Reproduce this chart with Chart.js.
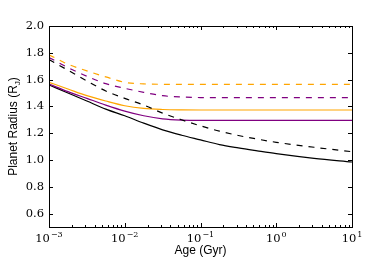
<!DOCTYPE html>
<html>
<head>
<meta charset="utf-8">
<script src="https://cdn.jsdelivr.net/npm/chart.js@4"></script>
<style>
  html, body { margin: 0; padding: 0; background: #fff; }
</style>
</head>
<body>
<canvas id="myChart" width="390" height="260"></canvas>
<script>
// Data (age in Gyr, radius in Jupiter radii)
const ages = [0.001, 0.00178, 0.00316, 0.00562, 0.01, 0.0178, 0.0316, 0.0562, 0.1, 0.178, 0.316, 0.562, 1, 3.16, 10];
const blackSolid   = [1.56, 1.50, 1.44, 1.38, 1.33, 1.275, 1.225, 1.185, 1.15, 1.115, 1.09, 1.068, 1.047, 1.012, 0.985];
const blackDashed  = [1.75, 1.67, 1.59, 1.515, 1.46, 1.41, 1.35, 1.30, 1.255, 1.215, 1.183, 1.156, 1.132, 1.095, 1.062];
const purpleSolid  = [1.567, 1.51, 1.46, 1.41, 1.365, 1.33, 1.307, 1.298, 1.296, 1.296, 1.296, 1.296, 1.296, 1.296, 1.296];
const purpleDashed = [1.765, 1.69, 1.625, 1.57, 1.535, 1.505, 1.48, 1.47, 1.466, 1.465, 1.465, 1.465, 1.465, 1.465, 1.465];
const orangeSolid  = [1.58, 1.53, 1.48, 1.44, 1.405, 1.385, 1.377, 1.374, 1.373, 1.373, 1.373, 1.373, 1.373, 1.373, 1.373];
const orangeDashed = [1.785, 1.715, 1.665, 1.62, 1.58, 1.568, 1.565, 1.565, 1.565, 1.565, 1.565, 1.565, 1.565, 1.565, 1.565];

const xTicks = [0.001, 0.01, 0.1, 1, 10];
const yTicks = [0.6, 0.8, 1.0, 1.2, 1.4, 1.6, 1.8, 2.0];

function series(vals, color, dashed) {
  return {
    data: ages.map((a, i) => ({ x: a, y: vals[i] })),
    borderColor: color,
    borderWidth: 1.2,
    borderDash: dashed ? [6, 6] : [],
    pointRadius: 0,
    fill: false,
    cubicInterpolationMode: 'monotone'
  };
}

// inward ticks, frame, x tick labels and axis titles, drawn like matplotlib
const framePlugin = {
  id: 'frame',
  afterDraw(chart) {
    const ctx = chart.ctx;
    const a = chart.chartArea;
    const xs = chart.scales.x, ys = chart.scales.y;
    ctx.save();
    ctx.strokeStyle = '#000';
    ctx.lineWidth = 1;
    ctx.strokeRect(Math.round(a.left) + 0.5, Math.round(a.top) + 0.5,
      Math.round(a.right - a.left), Math.round(a.bottom - a.top));
    ctx.beginPath();
    for (let d = -3; d <= 1; d++) {
      for (let k = 1; k <= 9; k++) {
        const v = k * Math.pow(10, d);
        if (v > 10.0001) break;
        const px = Math.round(xs.getPixelForValue(v)) + 0.5;
        const len = k === 1 ? 4 : 2;
        ctx.moveTo(px, a.bottom); ctx.lineTo(px, a.bottom - len);
        ctx.moveTo(px, a.top); ctx.lineTo(px, a.top + len);
      }
    }
    yTicks.forEach(v => {
      const py = Math.round(ys.getPixelForValue(v)) + 0.5;
      ctx.moveTo(a.left, py); ctx.lineTo(a.left + 4, py);
      ctx.moveTo(a.right, py); ctx.lineTo(a.right - 4, py);
    });
    ctx.stroke();

    ctx.fillStyle = '#000';
    ctx.textBaseline = 'alphabetic';
    ctx.textAlign = 'left';

    // x tick labels: 10 with raised exponent
    const bigFont = '11.5px "DejaVu Serif", serif';
    const supFont = '8px "DejaVu Serif", serif';
    xTicks.forEach(v => {
      const exp = String(Math.round(Math.log10(v))).replace('-', '\u2212');
      ctx.font = bigFont;
      const wb = ctx.measureText('10').width;
      ctx.font = supFont;
      const ws = ctx.measureText(exp).width;
      const px = xs.getPixelForValue(v);
      const x0 = px - (wb + ws + 1) / 2;
      ctx.font = bigFont;
      ctx.fillText('10', x0, 242);
      ctx.font = supFont;
      ctx.fillText(exp, x0 + wb + 1, 237);
    });

    // x title
    ctx.font = '12px "Liberation Sans", Arial, sans-serif';
    ctx.textAlign = 'center';
    ctx.fillText('Age (Gyr)', (a.left + a.right) / 2, 254);

    // y title with subscript J
    ctx.translate(17, (a.top + a.bottom) / 2);
    ctx.rotate(-Math.PI / 2);
    const main = 'Planet Radius (R';
    ctx.font = '12px "Liberation Sans", Arial, sans-serif';
    const w1 = ctx.measureText(main).width;
    ctx.font = '8px "Liberation Sans", Arial, sans-serif';
    const w2 = ctx.measureText('J').width;
    ctx.font = '12px "Liberation Sans", Arial, sans-serif';
    const w3 = ctx.measureText(')').width;
    const x0 = -(w1 + w2 + w3) / 2;
    ctx.textAlign = 'left';
    ctx.fillText(main, x0, 0);
    ctx.font = '8px "Liberation Sans", Arial, sans-serif';
    ctx.fillText('J', x0 + w1, 3);
    ctx.font = '12px "Liberation Sans", Arial, sans-serif';
    ctx.fillText(')', x0 + w1 + w2, 0);
    ctx.restore();
  }
};

const ctx = document.getElementById('myChart').getContext('2d');

const myChart = new Chart(ctx, {
  type: 'line',
  data: {
    datasets: [
      series(orangeDashed, '#FFA500', true),
      series(purpleDashed, '#800080', true),
      series(blackDashed, '#000000', true),
      series(orangeSolid, '#FFA500', false),
      series(purpleSolid, '#800080', false),
      series(blackSolid, '#000000', false)
    ]
  },
  options: {
    responsive: false,
    animation: false,
    devicePixelRatio: 1,
    layout: { padding: { top: 26, right: 38, left: 0, bottom: 0 } },
    plugins: { legend: { display: false }, tooltip: { enabled: false } },
    scales: {
      x: {
        type: 'logarithmic',
        min: 0.001,
        max: 10,
        grid: { display: false, drawTicks: false },
        border: { display: false },
        afterBuildTicks: s => { s.ticks = xTicks.map(v => ({ value: v })); },
        afterFit: s => { s.height = 33; },
        ticks: { display: false }
      },
      y: {
        min: 0.5,
        max: 2.0,
        grid: { display: false, drawTicks: false },
        border: { display: false },
        afterBuildTicks: s => { s.ticks = yTicks.map(v => ({ value: v })); },
        afterFit: s => { s.width = 49; },
        ticks: {
          padding: 5,
          color: '#000',
          font: { family: '"DejaVu Serif", serif', size: 11.5 },
          callback: v => v.toFixed(1)
        }
      }
    }
  },
  plugins: [framePlugin]
});
</script>
</body>
</html>
